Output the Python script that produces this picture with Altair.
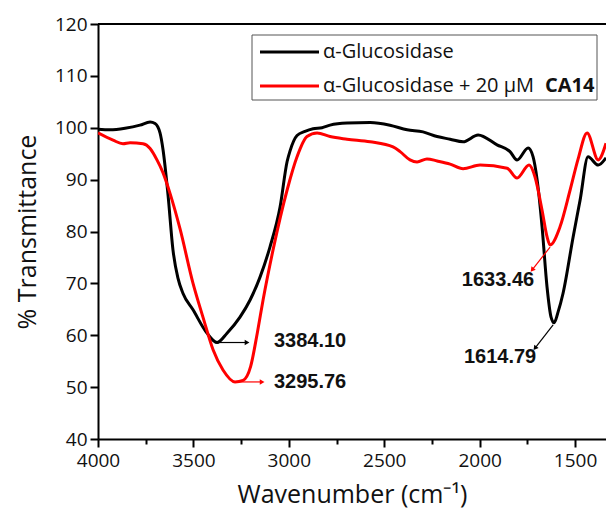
import altair as alt
import pandas as pd

# ---- data ----
black_wn = [4000, 3937, 3858, 3780, 3727, 3701, 3675, 3659, 3633, 3607, 3581, 3555, 3502, 3429, 3376,
            3324, 3256, 3203, 3151, 3099, 3046, 3009, 2994, 2957, 2915, 2873, 2826, 2784, 2695, 2574,
            2470, 2380, 2297, 2223, 2155, 2087, 2008, 1909, 1841, 1804, 1746, 1720, 1699, 1673, 1647,
            1626, 1610, 1589, 1563, 1510, 1474, 1432, 1379, 1338]
black_t = [99.7, 99.6, 99.9, 100.5, 101.1, 100.8, 99.0, 95.7, 87.0, 76.4, 71.0, 68.1, 64.9, 60.4, 58.6,
           60.4, 63.5, 66.8, 71.2, 77.0, 84.7, 93.5, 95.5, 98.5, 99.3, 99.8, 100.0, 100.5, 100.9, 101.0,
           100.5, 99.6, 99.2, 98.3, 97.8, 97.3, 98.6, 96.7, 95.4, 93.8, 96.1, 94.4, 90.0, 80.9, 69.3,
           63.5, 62.4, 64.5, 68.1, 79.0, 86.0, 94.4, 92.8, 94.2]

red_wn = [4000, 3921, 3869, 3832, 3764, 3727, 3691, 3659, 3623, 3570, 3502, 3450, 3397, 3345, 3282,
          3240, 3200, 3165, 3135, 3083, 3009, 2957, 2905, 2852, 2784, 2695, 2574, 2454, 2417, 2365, 2328,
          2276, 2223, 2155, 2087, 1998, 1856, 1804, 1741, 1710, 1673, 1647, 1631, 1579, 1526, 1484,
          1437, 1379, 1338]
red_t = [99.0, 97.6, 96.9, 97.1, 96.9, 96.0, 93.8, 91.3, 87.4, 80.5, 70.0, 63.5, 57.2, 53.3, 51.0,
         51.3, 54.0, 60.5, 66.8, 76.4, 88.0, 94.4, 98.3, 99.0, 98.3, 97.8, 97.3, 96.3, 95.4, 93.8, 93.4,
         94.0, 93.6, 93.0, 92.1, 92.8, 92.2, 90.3, 92.8, 90.5, 84.1, 79.0, 77.4, 80.9, 88.0, 94.0,
         99.0, 93.8, 97.0]

series_names = ["α-Glucosidase", "α-Glucosidase + 20 μM CA14"]
series_colors = ["#000000", "#ff0000"]

# annotations: peak labels and arrows (data coordinates)
ann_text = ["3384.10", "3295.76", "1633.46", "1614.79"]
ann_tx = [3078, 3078, 1904, 1893]
ann_ty = [58.9, 51.0, 70.7, 55.8]
ann_align = ["left", "left", "center", "center"]
arr_x1 = [3376, 3282, 1631, 1615]
arr_y1 = [58.6, 51.0, 77.0, 62.0]
arr_x2 = [3219, 3140, 1725, 1710]
arr_y2 = [58.6, 51.0, 72.6, 57.5]
arr_color = ["#000000", "#ff0000", "#ff0000", "#000000"]
arr_angle = [90, 90, 218, 218]

X_MIN, X_MAX = 1338, 4000
W, H = 508, 415
FONT = "Open Sans"

df = pd.concat([
    pd.DataFrame({"wn": black_wn, "t": black_t, "s": series_names[0], "o": range(len(black_wn))}),
    pd.DataFrame({"wn": red_wn, "t": red_t, "s": series_names[1], "o": range(len(red_wn))}),
])
ann = pd.DataFrame({"text": ann_text, "x": ann_tx, "y": ann_ty, "align": ann_align})
arr = pd.DataFrame({"x1": arr_x1, "y1": arr_y1, "x2": arr_x2, "y2": arr_y2,
                    "c": arr_color, "a": arr_angle})

xscale = alt.Scale(domain=[X_MIN, X_MAX], reverse=True, nice=False, zero=False)
yscale = alt.Scale(domain=[40, 120], nice=False, zero=False)

x_ticks = list(range(4000, 1337, -250))
y_ticks = list(range(40, 121, 5))

xaxis = alt.Axis(values=x_ticks, labelExpr="datum.value % 500 === 0 ? datum.label : ''",
                 format="d", title="Wavenumber (cm⁻¹)", grid=False,
                 tickSize=alt.condition("datum.value % 500 === 0", alt.value(8), alt.value(5)),
                 tickWidth=2, tickColor="#000", domainColor="#000", domainWidth=2,
                 labelFont=FONT, labelFontSize=19, labelColor="#111", labelPadding=4,
                 titleFont=FONT, titleFontSize=25, titleFontWeight="normal", titleColor="#111",
                 titlePadding=12, labelFlush=False)
yaxis = alt.Axis(values=y_ticks, labelExpr="datum.value % 10 === 0 ? datum.label : ''",
                 title="% Transmittance", grid=False,
                 tickSize=alt.condition("datum.value % 10 === 0", alt.value(8), alt.value(4)),
                 tickWidth=2, tickColor="#000", domainColor="#000", domainWidth=2,
                 labelFont=FONT, labelFontSize=19, labelColor="#111", labelPadding=3,
                 titleFont=FONT, titleFontSize=25, titleFontWeight="normal", titleColor="#111",
                 titlePadding=14, labelFlush=False)

lines = alt.Chart(df).mark_line(strokeWidth=3, clip=True, interpolate="monotone").encode(
    x=alt.X("wn:Q", scale=xscale, axis=xaxis),
    y=alt.Y("t:Q", scale=yscale, axis=yaxis),
    color=alt.Color("s:N", scale=alt.Scale(domain=series_names, range=series_colors), legend=None),
    order="o:Q",
)

top = alt.Chart(pd.DataFrame({"v": [120]})).mark_rule(color="#000", strokeWidth=2).encode(
    y=alt.Y("v:Q", scale=yscale), x=alt.value(0), x2=alt.value(W))

arrows = alt.Chart(arr).mark_rule(strokeWidth=1.2).encode(
    x=alt.X("x1:Q", scale=xscale), y=alt.Y("y1:Q", scale=yscale),
    x2="x2:Q", y2="y2:Q", color=alt.Color("c:N", scale=None))
heads = alt.Chart(arr).mark_point(shape="triangle-up", filled=True, size=30, opacity=1).encode(
    x=alt.X("x2:Q", scale=xscale), y=alt.Y("y2:Q", scale=yscale),
    angle=alt.Angle("a:Q", scale=None), color=alt.Color("c:N", scale=None))

labels_l = alt.Chart(ann[ann["align"] == "left"]).mark_text(
    font="Liberation Sans", fontWeight="bold", fontSize=20, align="left", baseline="middle",
    color="#111").encode(x=alt.X("x:Q", scale=xscale), y=alt.Y("y:Q", scale=yscale), text="text:N")
labels_c = alt.Chart(ann[ann["align"] == "center"]).mark_text(
    font="Liberation Sans", fontWeight="bold", fontSize=20, align="center", baseline="middle",
    color="#111").encode(x=alt.X("x:Q", scale=xscale), y=alt.Y("y:Q", scale=yscale), text="text:N")

# legend box (layout decoration)
leg_box = alt.Chart(pd.DataFrame({"k": [0]})).mark_rect(fill="white", stroke="#555", strokeWidth=1).encode(
    x=alt.value(154), x2=alt.value(499), y=alt.value(11), y2=alt.value(76))
leg_df = pd.DataFrame({"s": series_names, "c": series_colors, "yy": [28, 62],
                       "txt": ["α-Glucosidase", "α-Glucosidase + 20 μM"]})
leg_lines = alt.Chart(leg_df).mark_rule(strokeWidth=3).encode(
    x=alt.value(162), x2=alt.value(221), y=alt.Y("yy:Q", scale=None),
    color=alt.Color("c:N", scale=None))
leg_text = alt.Chart(leg_df).mark_text(font=FONT, fontSize=20, align="left", baseline="middle",
                                        color="#111").encode(
    x=alt.value(225), y=alt.Y("yy:Q", scale=None), text="txt:N")
leg_bold = alt.Chart(pd.DataFrame({"t": ["CA14"], "yy": [62]})).mark_text(
    font=FONT, fontSize=20, fontWeight="bold", align="left", baseline="middle", color="#111").encode(
    x=alt.value(447), y=alt.Y("yy:Q", scale=None), text="t:N")

chart = alt.layer(lines, top, arrows, heads, labels_l, labels_c,
                  leg_box, leg_lines, leg_text, leg_bold).properties(
    width=W, height=H,
    autosize=alt.AutoSizeParams(type="none"),
    padding={"left": 98, "top": 24, "right": 0, "bottom": 78},
    background="white",
).configure_view(stroke=None)

chart.save("out.html", embed_options={"renderer": "svg", "actions": False})
